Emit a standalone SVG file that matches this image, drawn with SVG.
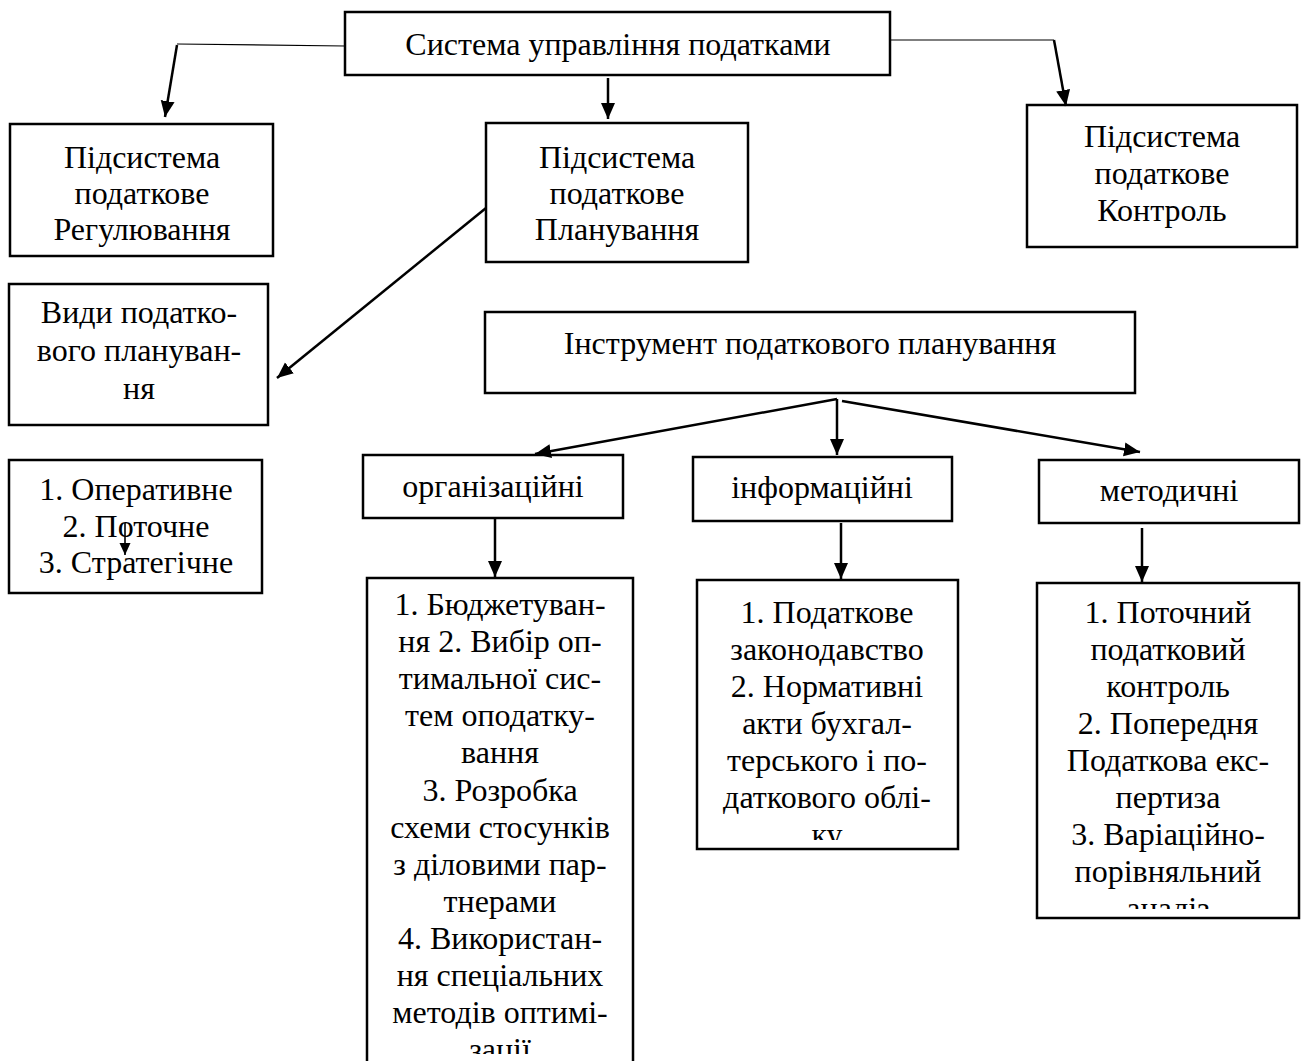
<svg xmlns="http://www.w3.org/2000/svg" width="1303" height="1061" viewBox="0 0 1303 1061">
<style>
  .box{fill:#fff;stroke:#000;stroke-width:2.5}
  .t{font-family:"Liberation Serif","Times New Roman",serif;font-size:32px;fill:#000;text-anchor:middle}
  .thin{fill:none;stroke:#000;stroke-width:1.2}
  .arr{fill:none;stroke:#000;stroke-width:2.5;marker-end:url(#ah)}
  .arrs{fill:none;stroke:#000;stroke-width:1.6;marker-end:url(#ahs)}
</style>
<defs>
  <marker id="ah" markerUnits="userSpaceOnUse" markerWidth="18" markerHeight="16" refX="16" refY="7" orient="auto">
    <path d="M0,0 L16,7 L0,14 Z" fill="#000"/>
  </marker>
  <marker id="ahs" markerUnits="userSpaceOnUse" markerWidth="14" markerHeight="12" refX="12" refY="5.5" orient="auto">
    <path d="M0,0 L12,5.5 L0,11 Z" fill="#000"/>
  </marker>
  <clipPath id="cOrg"><rect x="369" y="580" width="262" height="474"/></clipPath>
  <clipPath id="cInfo"><rect x="699" y="582" width="257" height="258"/></clipPath>
  <clipPath id="cMet"><rect x="1039" y="585" width="258" height="324"/></clipPath>
</defs>
<rect width="1303" height="1061" fill="#fff"/>

<g id="node-system">
  <rect class="box" x="345" y="12" width="545" height="63"/>
  <text class="t" x="618" y="55">Система управління податками</text>
</g>
<g id="node-regulation">
  <rect class="box" x="10" y="124" width="263" height="132"/>
  <text class="t" x="142" y="168">Підсистема</text>
  <text class="t" x="142" y="204">податкове</text>
  <text class="t" x="142" y="240">Регулювання</text>
</g>
<g id="node-planning">
  <rect class="box" x="486" y="123" width="262" height="139"/>
  <text class="t" x="617" y="168">Підсистема</text>
  <text class="t" x="617" y="204">податкове</text>
  <text class="t" x="617" y="240">Планування</text>
</g>
<g id="node-control">
  <rect class="box" x="1027" y="105" width="270" height="142"/>
  <text class="t" x="1162" y="147">Підсистема</text>
  <text class="t" x="1162" y="184">податкове</text>
  <text class="t" x="1162" y="221">Контроль</text>
</g>
<g id="node-types">
  <rect class="box" x="9" y="284" width="259" height="141"/>
  <text class="t" x="139" y="323">Види податко-</text>
  <text class="t" x="139" y="361">вого плануван-</text>
  <text class="t" x="139" y="399">ня</text>
</g>
<g id="node-types-list">
  <rect class="box" x="9" y="460" width="253" height="133"/>
  <text class="t" x="136" y="500">1. Оперативне</text>
  <text class="t" x="136" y="537">2. Поточне</text>
  <text class="t" x="136" y="573">3. Стратегічне</text>
</g>
<g id="node-instrument">
  <rect class="box" x="485" y="312" width="650" height="81"/>
  <text class="t" x="810" y="354">Інструмент податкового планування</text>
</g>
<g id="node-org">
  <rect class="box" x="363" y="455" width="260" height="63"/>
  <text class="t" x="493" y="497">організаційні</text>
</g>
<g id="node-info">
  <rect class="box" x="693" y="457" width="259" height="64"/>
  <text class="t" x="822" y="498">інформаційні</text>
</g>
<g id="node-method">
  <rect class="box" x="1039" y="460" width="260" height="63"/>
  <text class="t" x="1169" y="501">методичні</text>
</g>
<g id="node-org-list">
  <rect class="box" x="367" y="578" width="266" height="520"/>
  <g clip-path="url(#cOrg)">
    <text class="t" x="500" y="615">1. Бюджетуван-</text>
    <text class="t" x="500" y="652">ня 2. Вибір оп-</text>
    <text class="t" x="500" y="689">тимальної сис-</text>
    <text class="t" x="500" y="726">тем оподатку-</text>
    <text class="t" x="500" y="763">вання</text>
    <text class="t" x="500" y="801">3. Розробка</text>
    <text class="t" x="500" y="838">схеми стосунків</text>
    <text class="t" x="500" y="875">з діловими пар-</text>
    <text class="t" x="500" y="912">тнерами</text>
    <text class="t" x="500" y="949">4. Використан-</text>
    <text class="t" x="500" y="986">ня спеціальних</text>
    <text class="t" x="500" y="1023">методів оптимі-</text>
    <text class="t" x="500" y="1060">зації</text>
  </g>
</g>
<g id="node-info-list">
  <rect class="box" x="697" y="580" width="261" height="269"/>
  <g clip-path="url(#cInfo)">
    <text class="t" x="827" y="623">1. Податкове</text>
    <text class="t" x="827" y="660">законодавство</text>
    <text class="t" x="827" y="697">2. Нормативні</text>
    <text class="t" x="827" y="734">акти бухгал-</text>
    <text class="t" x="827" y="771">терського і по-</text>
    <text class="t" x="827" y="808">даткового облі-</text>
    <text class="t" x="827" y="845">ку</text>
  </g>
</g>
<g id="node-method-list">
  <rect class="box" x="1037" y="583" width="262" height="335"/>
  <g clip-path="url(#cMet)">
    <text class="t" x="1168" y="623">1. Поточний</text>
    <text class="t" x="1168" y="660">податковий</text>
    <text class="t" x="1168" y="697">контроль</text>
    <text class="t" x="1168" y="734">2. Попередня</text>
    <text class="t" x="1168" y="771">Податкова екс-</text>
    <text class="t" x="1168" y="808">пертиза</text>
    <text class="t" x="1168" y="845">3. Варіаційно-</text>
    <text class="t" x="1168" y="882">порівняльний</text>
    <text class="t" x="1168" y="919">аналіз</text>
  </g>
</g>

<g id="connectors">
  <polyline class="thin" points="345,46 177,44"/>
  <line class="arr" x1="177" y1="45" x2="165" y2="117"/>
  <line class="arr" x1="608" y1="78" x2="608" y2="119"/>
  <polyline class="thin" points="890,40 1054,40"/>
  <line class="arr" x1="1054" y1="40" x2="1066" y2="106"/>
  <line class="arr" x1="486" y1="208" x2="277" y2="378"/>
  <line class="arr" x1="837" y1="399" x2="535" y2="454"/>
  <line class="arr" x1="837" y1="399" x2="837" y2="455"/>
  <line class="arr" x1="842" y1="401" x2="1140" y2="452"/>
  <line class="arr" x1="495" y1="519" x2="495" y2="577"/>
  <line class="arr" x1="841" y1="523" x2="841" y2="579"/>
  <line class="arr" x1="1142" y1="528" x2="1142" y2="582"/>
  <line class="arrs" x1="125" y1="523" x2="125" y2="555"/>
</g>
</svg>
